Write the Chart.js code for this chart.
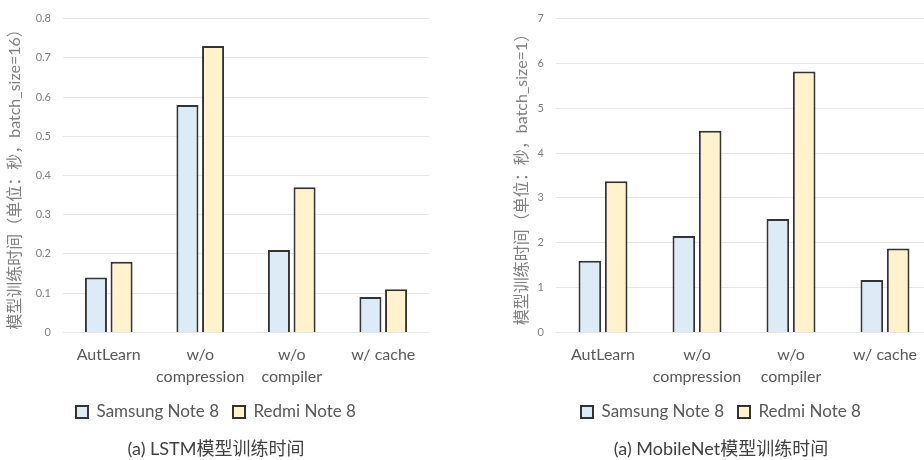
<!DOCTYPE html>
<html>
<head>
<meta charset="utf-8">
<script src="https://cdn.jsdelivr.net/npm/chart.js@4"></script>
<style>
  html, body { margin: 0; padding: 0; background: #fff; }
  #wrap { position: relative; width: 924px; height: 460px; overflow: hidden; }
  canvas { position: absolute; top: 0; }
  #lstm { left: 0; }
  #mobile { left: 464px; }
</style>
</head>
<body>
<div id="wrap">
  <canvas id="lstm" width="462" height="460"></canvas>
  <canvas id="mobile" width="480" height="460"></canvas>
</div>
<script>
// categories shared by both panels
const categories = ['AutLearn', ['w/o', 'compression'], ['w/o', 'compiler'], 'w/ cache'];
const seriesNames = ['Samsung Note 8', 'Redmi Note 8'];

// (a) LSTM, seconds, batch_size=16
const lstmSamsung = [0.14, 0.58, 0.21, 0.09];
const lstmRedmi = [0.18, 0.73, 0.37, 0.11];

// (a) MobileNet, seconds, batch_size=1
const mobileSamsung = [1.6, 2.15, 2.53, 1.17];
const mobileRedmi = [3.37, 4.5, 5.82, 1.87];

const FONT = "Lato, 'Noto Sans CJK SC', sans-serif";
const BLUE = '#DDEBF7';
const YELLOW = '#FFF2CC';

function makeChart(id, samsung, redmi, yMax, yStep, yTitle, title, pad, yWidth) {
  const ctx = document.getElementById(id).getContext('2d');
  return new Chart(ctx, {
    type: 'bar',
    data: {
      labels: categories,
      datasets: [
        { label: seriesNames[0], data: samsung, backgroundColor: BLUE, borderColor: '#333', borderWidth: 2 },
        { label: seriesNames[1], data: redmi, backgroundColor: YELLOW, borderColor: '#333', borderWidth: 2 }
      ]
    },
    options: {
      responsive: false,
      animation: false,
      layout: { padding: pad },
      datasets: { bar: { categoryPercentage: 0.56, barPercentage: 0.86 } },
      scales: {
        x: {
          grid: { display: false, drawTicks: false },
          border: { display: false },
          ticks: { color: '#595959', font: { family: FONT, size: 16, lineHeight: 1.4 }, padding: 11, maxRotation: 0 },
          afterFit: s => { s.height = 57; }
        },
        y: {
          min: 0, max: yMax,
          grid: { color: '#e6e6e6', lineWidth: 1, drawTicks: false },
          border: { display: false },
          ticks: { stepSize: yStep, color: '#7f7f7f', font: { family: FONT, size: 11 }, padding: 12 },
          title: { display: true, text: yTitle, color: '#7f7f7f', font: { family: FONT, size: 16 }, padding: 2 },
          afterFit: s => { s.width = yWidth; }
        }
      },
      plugins: {
        legend: {
          position: 'bottom',
          labels: {
            color: '#595959', font: { family: FONT, size: 17 },
            boxWidth: 12, boxHeight: 12, padding: 14
          }
        },
        title: {
          display: true, position: 'bottom', text: title, color: '#404040',
          font: { family: FONT, size: 18, weight: 'normal' }, padding: { top: 8, bottom: 0 }
        },
        tooltip: { enabled: false }
      }
    }
  });
}

makeChart('lstm', lstmSamsung, lstmRedmi, 0.8, 0.1,
  '模型训练时间（单位：秒，batch_size=16）', '(a) LSTM模型训练时间',
  { left: 3, right: 33, top: 18, bottom: 0 }, 60);

makeChart('mobile', mobileSamsung, mobileRedmi, 7, 1,
  '模型训练时间（单位：秒，batch_size=1）', '(a) MobileNet模型训练时间',
  { left: 46, right: 12, top: 18, bottom: 0 }, 46);
</script>
</body>
</html>
